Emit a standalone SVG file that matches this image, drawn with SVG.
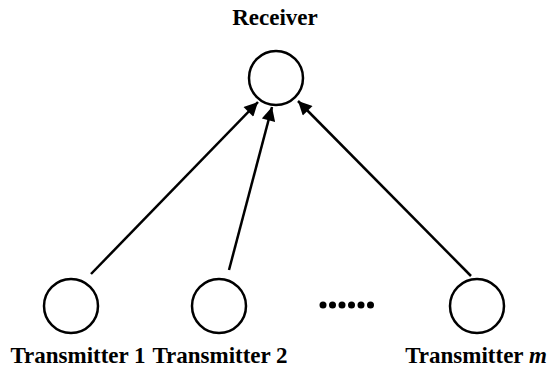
<svg xmlns="http://www.w3.org/2000/svg" width="550" height="371" viewBox="0 0 550 371">
  <style>
    .node { fill: #fff; stroke: #000; stroke-width: 2.5; }
    .label { font-family: "Liberation Serif", "Times New Roman", serif; font-weight: bold; font-size: 23px; fill: #000; text-anchor: middle; }
    .edge { stroke: #000; stroke-width: 2.5; fill: none; marker-end: url(#arrow); }
    .dot { fill: #000; }
  </style>
  <defs>
    <marker id="arrow" viewBox="0 0 10 10" refX="10" refY="5" markerWidth="6.5" markerHeight="5.5" orient="auto" markerUnits="strokeWidth">
      <path d="M0,0 L10,5 L0,10 z" fill="#000"/>
    </marker>
  </defs>

  <g id="edges">
    <line class="edge" x1="91" y1="274" x2="258" y2="102"/>
    <line class="edge" x1="229" y1="270" x2="272" y2="107"/>
    <line class="edge" x1="471" y1="276" x2="298" y2="101"/>
  </g>

  <g id="receiver">
    <circle class="node" cx="276" cy="78" r="27"/>
    <text class="label" x="275" y="25">Receiver</text>
  </g>

  <g id="transmitter-1">
    <circle class="node" cx="71" cy="306" r="27"/>
    <text class="label" x="78" y="363">Transmitter 1</text>
  </g>

  <g id="transmitter-2">
    <circle class="node" cx="219" cy="306" r="27"/>
    <text class="label" x="220" y="363">Transmitter 2</text>
  </g>

  <g id="ellipsis">
    <circle class="dot" cx="323" cy="305" r="3.5"/>
    <circle class="dot" cx="332.5" cy="305" r="3.5"/>
    <circle class="dot" cx="342" cy="305" r="3.5"/>
    <circle class="dot" cx="351.5" cy="305" r="3.5"/>
    <circle class="dot" cx="361" cy="305" r="3.5"/>
    <circle class="dot" cx="370.5" cy="305" r="3.5"/>
  </g>

  <g id="transmitter-m">
    <circle class="node" cx="477" cy="306" r="27"/>
    <text class="label" x="476" y="363">Transmitter <tspan font-style="italic">m</tspan></text>
  </g>
</svg>
